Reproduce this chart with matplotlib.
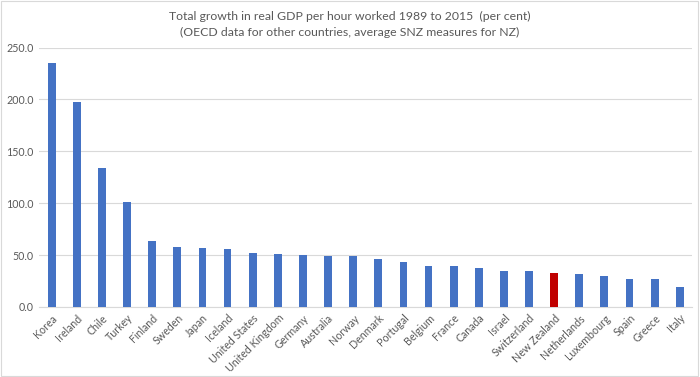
import matplotlib
matplotlib.use("Agg")
import matplotlib.pyplot as plt
import numpy as np

countries = ["Korea", "Ireland", "Chile", "Turkey", "Finland", "Sweden", "Japan", "Iceland",
             "United States", "United Kingdom", "Germany", "Australia", "Norway", "Denmark",
             "Portugal", "Belgium", "France", "Canada", "Israel", "Switzerland", "New Zealand",
             "Netherlands", "Luxembourg", "Spain", "Greece", "Italy"]
growth = [234.6, 197.1, 134.3, 101.3, 63.2, 57.7, 56.4, 55.5, 52.1, 50.9, 50.2, 49.2, 48.6,
          45.8, 43.4, 39.6, 39.0, 37.1, 34.7, 34.2, 32.2, 31.3, 29.9, 26.4, 26.4, 19.0]
yticks = [0, 50, 100, 150, 200, 250]
title = ("Total growth in real GDP per hour worked 1989 to 2015  (per cent)\n"
         "(OECD data for other countries, average SNZ measures for NZ)")

plt.rcParams['font.family'] = ['Lato', 'DejaVu Sans']

fig = plt.figure(figsize=(7, 3.77), dpi=100)
ax = fig.add_axes([0.056, 0.186, 0.933, 0.688])

colors = ["#C00000" if c == "New Zealand" else "#4472C4" for c in countries]
x = np.arange(len(countries))
ax.bar(x, growth, width=0.31, color=colors, zorder=3)

ax.set_ylim(0, 250)
ax.set_xlim(-0.5, len(countries) - 0.5)
ax.set_yticks(yticks)
ax.set_yticklabels([f"{v:.1f}" for v in yticks])
ax.set_xticks(x)
ax.set_xticklabels(countries, rotation=45, ha="right", rotation_mode="anchor")
ax.tick_params(axis="both", length=0, labelsize=7.7, colors="#595959", pad=4)
ax.grid(axis="y", color="#D9D9D9", linewidth=0.8, zorder=0)
for s in ["top", "right", "left"]:
    ax.spines[s].set_visible(False)
ax.spines["bottom"].set_color("#D9D9D9")
ax.spines["bottom"].set_linewidth(0.8)

fig.text(0.50, 0.97, title, ha="center", va="top", fontsize=8.8, color="#595959",
         linespacing=1.5)

fig.patches.append(plt.Rectangle((0.002, 0.003), 0.995, 0.994, transform=fig.transFigure,
                                 fill=False, edgecolor="#D9D9D9", linewidth=0.8))

fig.savefig("out.png", dpi=100)
